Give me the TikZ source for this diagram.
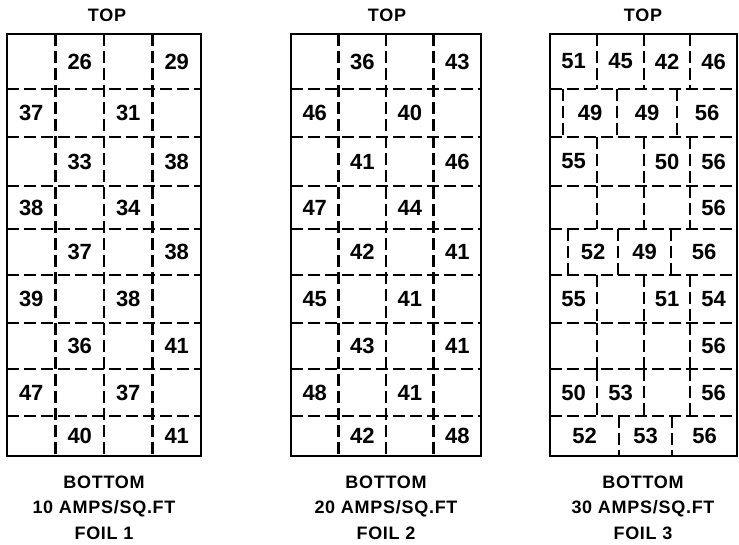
\documentclass[tikz,border=0pt]{standalone}
\usepackage{fontspec}
\setmainfont{Liberation Sans}
\usepackage{tikz}

\tikzset{
  frame/.style={line width=2.8pt},
  cut/.style={line width=2.1pt, dash pattern=on 12pt off 5pt},
  val/.style={font=\fontsize{22}{22}\selectfont\bfseries, inner sep=0pt},
  caption/.style={font=\fontsize{18}{18}\selectfont\bfseries\addfontfeature{LetterSpace=4},
                  inner sep=0pt, anchor=base},
}

\begin{document}
\begin{tikzpicture}[x=1pt, y=-1pt]
  \useasboundingbox (0,0) rectangle (739,544);
  \fill[white] (0,0) rectangle (739,544);

  % ---------------- foil 1 ----------------
  \draw[frame] (7,34) rectangle (201,456);
  \foreach \y in {89,137,186,229,275,323,369,416}
    \draw[cut] (7,\y) -- (201,\y);
  \foreach \x in {55.5,104,152.5}
    \draw[cut] (\x,34) -- (\x,456);
  \foreach \p/\q/\yc [count=\r] in {26/29/61.5,37/31/113,33/38/161.5,38/34/207.5,37/38/252,
                                   39/38/299,36/41/346,47/37/392.5,40/41/436} {
    \pgfmathsetmacro\ca{1+mod(\r,2)} % odd rows start in column 2
    \node[val] (fa-\r-1) at ({7+(\ca-0.5)*48.5},\yc) {\p};
    \node[val] (fa-\r-2) at ({7+(\ca+1.5)*48.5},\yc) {\q};
  }
  \node[caption] (topa) at (107,21) {TOP};
  \node[caption] (bota) at (104,488) {BOTTOM};
  \node[caption] (ampsa) at (104,513) {10 AMPS/SQ.FT};
  \node[caption] (foila) at (104,539) {FOIL 1};

  % ---------------- foil 2 ----------------
  \draw[frame] (291,34) rectangle (481,456);
  \foreach \y in {89,137,186,229,275,323,369,416}
    \draw[cut] (291,\y) -- (481,\y);
  \foreach \x in {338.5,386,433.5}
    \draw[cut] (\x,34) -- (\x,456);
  \foreach \p/\q/\yc [count=\r] in {36/43/61.5,46/40/113,41/46/161.5,47/44/207.5,42/41/252,
                                   45/41/299,43/41/346,48/41/392.5,42/48/436} {
    \pgfmathsetmacro\ca{1+mod(\r,2)}
    \node[val] (fb-\r-1) at ({291+(\ca-0.5)*47.5},\yc) {\p};
    \node[val] (fb-\r-2) at ({291+(\ca+1.5)*47.5},\yc) {\q};
  }
  \node[caption] (topb) at (387,21) {TOP};
  \node[caption] (botb) at (386,488) {BOTTOM};
  \node[caption] (ampsb) at (386,513) {20 AMPS/SQ.FT};
  \node[caption] (foilb) at (386,539) {FOIL 2};

  % ---------------- foil 3 (irregular cuts) ----------------
  \draw[frame] (550,34) rectangle (737,456);
  \foreach \y in {89,137,186,229,275,323,369,416}
    \draw[cut] (550,\y) -- (737,\y);
  % vertical cuts, row by row
  \foreach \ya/\yb/\xs in {34/89/{597,644,690},89/137/{563,617,677},137/186/{597,644,690},
                           186/229/{597,644,690},229/275/{568,618,671},275/323/{597,644,690},
                           323/369/{597,644,690},369/416/{597,644,690},416/456/{619,672}} {
    \foreach \x in \xs
      \draw[cut] (\x,\ya) -- (\x,\yb);
  }
  \foreach \x/\v [count=\i] in {573.5/51,620.5/45,667/42,713.5/46}
    \node[val] (fc-1-\i) at (\x,61.5) {\v};
  \foreach \x/\v [count=\i] in {590/49,647/49,707/56}
    \node[val] (fc-2-\i) at (\x,113) {\v};
  \foreach \x/\v [count=\i] in {573.5/55,667/50,713.5/56}
    \node[val] (fc-3-\i) at (\x,161.5) {\v};
  \node[val] (fc-4-1) at (713.5,207.5) {56};
  \foreach \x/\v [count=\i] in {593/52,644.5/49,704/56}
    \node[val] (fc-5-\i) at (\x,252) {\v};
  \foreach \x/\v [count=\i] in {573.5/55,667/51,713.5/54}
    \node[val] (fc-6-\i) at (\x,299) {\v};
  \node[val] (fc-7-1) at (713.5,346) {56};
  \foreach \x/\v [count=\i] in {573.5/50,620.5/53,713.5/56}
    \node[val] (fc-8-\i) at (\x,392.5) {\v};
  \foreach \x/\v [count=\i] in {584.5/52,645.5/53,704.5/56}
    \node[val] (fc-9-\i) at (\x,436) {\v};
  \node[caption] (topc) at (643,21) {TOP};
  \node[caption] (botc) at (643,488) {BOTTOM};
  \node[caption] (ampsc) at (643,513) {30 AMPS/SQ.FT};
  \node[caption] (foilc) at (643,539) {FOIL 3};
\end{tikzpicture}
\end{document}
